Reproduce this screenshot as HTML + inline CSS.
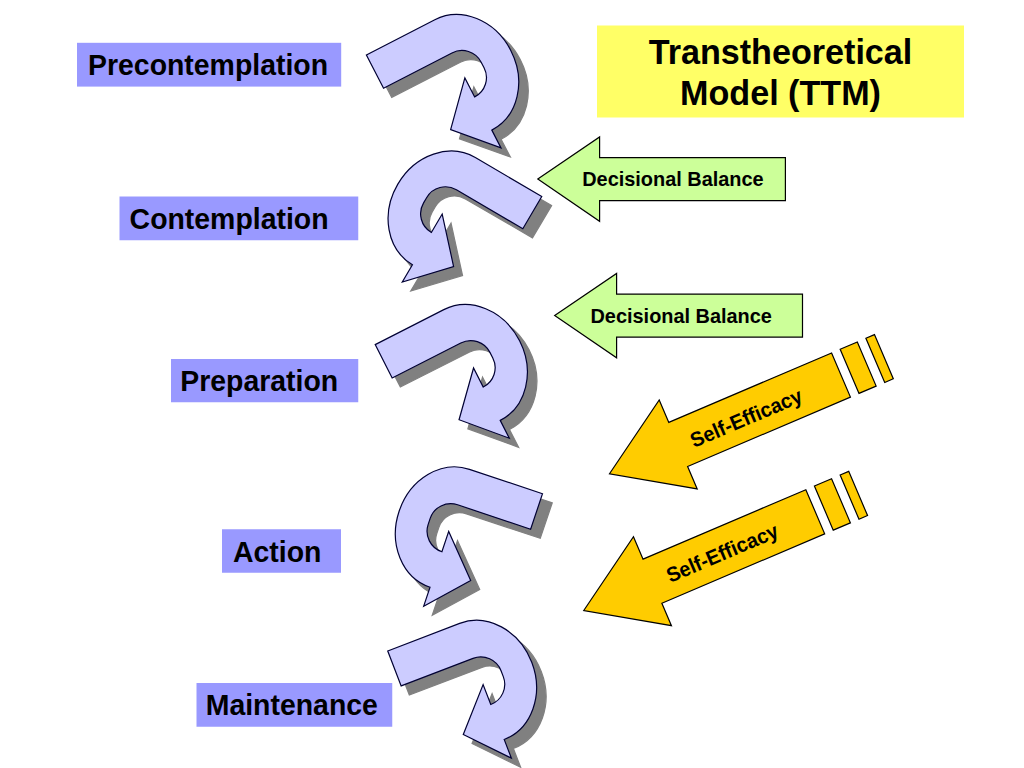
<!DOCTYPE html>
<html><head><meta charset="utf-8"><title>Transtheoretical Model (TTM)</title>
<style>
html,body{margin:0;padding:0;background:#fff;}
body{width:1024px;height:768px;overflow:hidden;}
svg{display:block;}
text{font-family:"Liberation Sans",Arial,Helvetica,sans-serif;font-weight:bold;fill:#000;}
.lbl{font-size:28.44px;}
.ttl{font-size:34.13px;text-anchor:middle;}
.sm{font-size:19.91px;text-anchor:middle;}
</style></head><body>
<svg width="1024" height="768" viewBox="0 0 1024 768">
<rect width="1024" height="768" fill="#ffffff"/>
<path d="M0,0 L77,0 A53.4,62.15 0 0 1 77,124.3 L77,144.3 L40.6,105 L77,65.5 L77,86.9 A21.7,21.6 0 0 0 98.7,65.3 L98.7,59 A21.7,21.6 0 0 0 77,37.4 L0,37.4 Z" transform="translate(466.329,98.310) scale(1.01,1) translate(-457.429,-89.210) matrix(0.88862,-0.45865,0.45865,0.88862,366.400,55.000)" fill="#808080" stroke="#808080" stroke-width="1.2"/>
<path d="M0,0 L77,0 A53.4,62.15 0 0 1 77,124.3 L77,144.3 L40.6,105 L77,65.5 L77,86.9 A21.7,21.6 0 0 0 98.7,65.3 L98.7,59 A21.7,21.6 0 0 0 77,37.4 L0,37.4 Z" transform="matrix(0.88862,-0.45865,0.45865,0.88862,366.400,55.000)" fill="#ccccff" stroke="#000033" stroke-width="1.2" stroke-linejoin="miter"/>
<path d="M0,0 L77,0 A53.4,62.15 0 0 1 77,124.3 L77,144.3 L40.6,105 L77,65.5 L77,86.9 A21.7,21.6 0 0 0 98.7,65.3 L98.7,59 A21.7,21.6 0 0 0 77,37.4 L0,37.4 Z" transform="translate(457.904,234.837) scale(1.01,1) translate(-449.004,-225.737) matrix(-0.86251,-0.50603,-0.50603,0.86251,541.750,196.500)" fill="#808080" stroke="#808080" stroke-width="1.2"/>
<path d="M0,0 L77,0 A53.4,62.15 0 0 1 77,124.3 L77,144.3 L40.6,105 L77,65.5 L77,86.9 A21.7,21.6 0 0 0 98.7,65.3 L98.7,59 A21.7,21.6 0 0 0 77,37.4 L0,37.4 Z" transform="matrix(-0.86251,-0.50603,-0.50603,0.86251,541.750,196.500)" fill="#ccccff" stroke="#000033" stroke-width="1.2" stroke-linejoin="miter"/>
<path d="M0,0 L77,0 A53.4,62.15 0 0 1 77,124.3 L77,144.3 L40.6,105 L77,65.5 L77,86.9 A21.7,21.6 0 0 0 98.7,65.3 L98.7,59 A21.7,21.6 0 0 0 77,37.4 L0,37.4 Z" transform="translate(474.949,388.386) scale(1.01,1) translate(-466.049,-379.286) matrix(0.89101,-0.45399,0.45399,0.89101,375.200,344.600)" fill="#808080" stroke="#808080" stroke-width="1.2"/>
<path d="M0,0 L77,0 A53.4,62.15 0 0 1 77,124.3 L77,144.3 L40.6,105 L77,65.5 L77,86.9 A21.7,21.6 0 0 0 98.7,65.3 L98.7,59 A21.7,21.6 0 0 0 77,37.4 L0,37.4 Z" transform="matrix(0.89101,-0.45399,0.45399,0.89101,375.200,344.600)" fill="#ccccff" stroke="#000033" stroke-width="1.2" stroke-linejoin="miter"/>
<path d="M0,0 L77,0 A53.4,62.15 0 0 1 77,124.3 L77,144.3 L40.6,105 L77,65.5 L77,86.9 A21.7,21.6 0 0 0 98.7,65.3 L98.7,59 A21.7,21.6 0 0 0 77,37.4 L0,37.4 Z" transform="translate(466.676,550.583) scale(1.01,1) translate(-457.776,-541.483) matrix(-0.94832,-0.31730,-0.31730,0.94832,542.500,493.750)" fill="#808080" stroke="#808080" stroke-width="1.2"/>
<path d="M0,0 L77,0 A53.4,62.15 0 0 1 77,124.3 L77,144.3 L40.6,105 L77,65.5 L77,86.9 A21.7,21.6 0 0 0 98.7,65.3 L98.7,59 A21.7,21.6 0 0 0 77,37.4 L0,37.4 Z" transform="matrix(-0.94832,-0.31730,-0.31730,0.94832,542.500,493.750)" fill="#ccccff" stroke="#000033" stroke-width="1.2" stroke-linejoin="miter"/>
<path d="M0,0 L77,0 A53.4,62.15 0 0 1 77,124.3 L77,144.3 L40.6,105 L77,65.5 L77,86.9 A21.7,21.6 0 0 0 98.7,65.3 L98.7,59 A21.7,21.6 0 0 0 77,37.4 L0,37.4 Z" transform="translate(483.376,704.092) scale(1.01,1) translate(-474.476,-694.992) matrix(0.93358,-0.35837,0.35837,0.93358,387.750,651.000)" fill="#808080" stroke="#808080" stroke-width="1.2"/>
<path d="M0,0 L77,0 A53.4,62.15 0 0 1 77,124.3 L77,144.3 L40.6,105 L77,65.5 L77,86.9 A21.7,21.6 0 0 0 98.7,65.3 L98.7,59 A21.7,21.6 0 0 0 77,37.4 L0,37.4 Z" transform="matrix(0.93358,-0.35837,0.35837,0.93358,387.750,651.000)" fill="#ccccff" stroke="#000033" stroke-width="1.2" stroke-linejoin="miter"/>
<rect x="77" y="42.8" width="264.2" height="43.8" fill="#9999ff"/>
<text transform="translate(88,75.3) scale(1,1.05)" class="lbl">Precontemplation</text>
<rect x="119.5" y="196.5" width="238.75" height="43.75" fill="#9999ff"/>
<text transform="translate(129.6,229.25) scale(1,1.05)" class="lbl">Contemplation</text>
<rect x="171" y="359" width="187.25" height="43.25" fill="#9999ff"/>
<text transform="translate(180.2,391) scale(1,1.05)" class="lbl">Preparation</text>
<rect x="222" y="529.25" width="119" height="43.5" fill="#9999ff"/>
<text transform="translate(233,561.75) scale(1,1.05)" class="lbl">Action</text>
<rect x="196.5" y="683" width="195.75" height="43.75" fill="#9999ff"/>
<text transform="translate(205.7,715) scale(1,1.05)" class="lbl">Maintenance</text>
<rect x="597" y="25.5" width="367" height="92" fill="#ffff66"/>
<text transform="translate(780.5,63.5) scale(1,1.05)" class="ttl">Transtheoretical</text>
<text transform="translate(780.5,104.5) scale(1,1.05)" class="ttl">Model (TTM)</text>
<path d="M537.8,179.1 L599.6,136.9 L599.6,157.6 L785.4,157.6 L785.4,200.6 L599.6,200.6 L599.6,221.3 Z" fill="#ccff99" stroke="#000" stroke-width="1.2"/>
<text transform="translate(672.9,186.4) scale(1,1.05)" class="sm">Decisional Balance</text>
<path d="M554.7,315.6 L616.6,273.4 L616.6,294.1 L802.5,294.1 L802.5,337.1 L616.6,337.1 L616.6,357.8 Z" fill="#ccff99" stroke="#000" stroke-width="1.2"/>
<text transform="translate(681.2,322.9) scale(1,1.05)" class="sm">Decisional Balance</text>
<g transform="matrix(0.91982,-0.39234,0.39234,0.91982,609.500,473.750)"><path d="M0,0 L74.7,-48.4 L74.7,-24 L251.691,-24 L251.691,24 L74.7,24 L74.7,48.4 Z M261.012,-24 L279.656,-24 L279.656,24 L261.012,24 Z M288.978,-24 L298.3,-24 L298.3,24 L288.978,24 Z" fill="#ffcc00" stroke="#000" stroke-width="1.2"/><text transform="translate(147.65,9.5) scale(1,1.05)" class="sm">Self-Efficacy</text></g>
<g transform="matrix(0.91982,-0.39234,0.39234,0.91982,583.750,610.500)"><path d="M0,0 L74.7,-48.4 L74.7,-24 L251.691,-24 L251.691,24 L74.7,24 L74.7,48.4 Z M261.012,-24 L279.656,-24 L279.656,24 L261.012,24 Z M288.978,-24 L298.3,-24 L298.3,24 L288.978,24 Z" fill="#ffcc00" stroke="#000" stroke-width="1.2"/><text transform="translate(149.95,8.7) scale(1,1.05)" class="sm">Self-Efficacy</text></g>
</svg>
</body></html>
